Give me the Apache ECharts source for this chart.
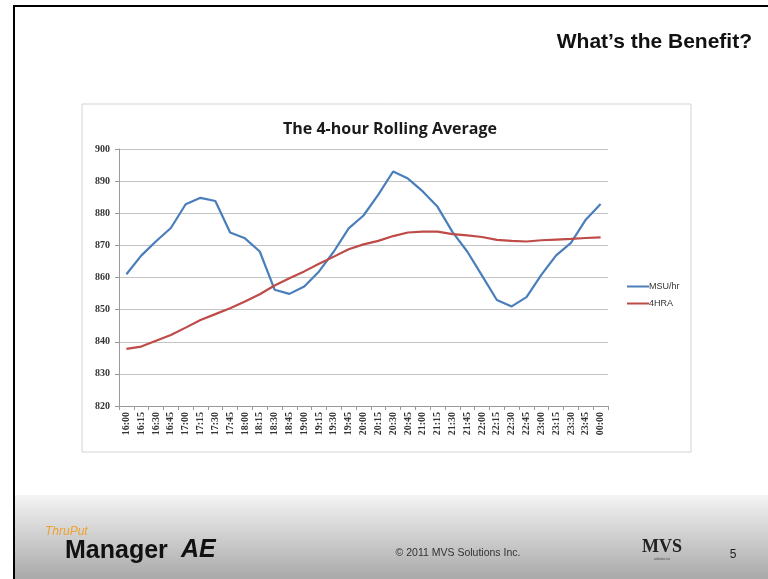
<!DOCTYPE html>
<html>
<head>
<meta charset="utf-8">
<script src="https://cdn.jsdelivr.net/npm/echarts@6/dist/echarts.min.js"></script>
<style>
html,body{margin:0;padding:0;background:#fff;}
#c{width:768px;height:579px;}
</style>
</head>
<body>
<div id="c"></div>
<script>
const categories = ['16:00','16:15','16:30','16:45','17:00','17:15','17:30','17:45','18:00','18:15','18:30','18:45','19:00','19:15','19:30','19:45','20:00','20:15','20:30','20:45','21:00','21:15','21:30','21:45','22:00','22:15','22:30','22:45','23:00','23:15','23:30','23:45','00:00'];
const msuHr = [861, 866.8, 871.3, 875.4, 882.8, 884.8, 883.8, 874, 872.2, 868.1, 856.2, 854.9, 857.2, 861.9, 868.1, 875.3, 879.3, 885.8, 893.0, 890.8, 886.8, 882.0, 874.2, 868.1, 860.6, 853.0, 851.0, 853.9, 860.8, 866.9, 870.8, 878.0, 882.9];
const hra4 = [837.8, 838.5, 840.3, 842.1, 844.4, 846.8, 848.6, 850.4, 852.5, 854.8, 857.5, 859.8, 861.9, 864.3, 866.5, 868.8, 870.3, 871.4, 872.9, 874.0, 874.3, 874.3, 873.5, 873.1, 872.6, 871.7, 871.4, 871.2, 871.6, 871.8, 872.0, 872.3, 872.5];
const seriesNames = ['MSU/hr', '4HRA'];
const yTicks = {min: 820, max: 900, interval: 10};

const chart = echarts.init(document.getElementById('c'), null, {renderer: 'canvas'});
chart.setOption({
  animation: false,
  backgroundColor: '#ffffff',
  title: {
    text: 'The 4-hour Rolling Average',
    left: 385, top: 116, textAlign: 'center',
    textStyle: {fontFamily: 'Open Sans, Liberation Sans, sans-serif', fontSize: 16, fontWeight: 'bold', color: '#1a1a1a'}
  },
  legend: {
    orient: 'vertical',
    left: 622, top: 277,
    itemWidth: 22, itemHeight: 2, itemGap: 8,
    icon: 'rect',
    textStyle: {fontFamily: 'Liberation Sans, Arial, sans-serif', fontSize: 9, color: '#333', padding: [0,0,0,-5]},
    data: seriesNames
  },
  grid: {left: 119, right: 160, top: 149, bottom: 173, containLabel: false},
  xAxis: {
    type: 'category',
    data: categories,
    boundaryGap: true,
    axisLine: {lineStyle: {color: '#9a9a9a', width: 1}},
    axisTick: {show: true, alignWithLabel: false, length: 4, lineStyle: {color: '#9a9a9a'}},
    axisLabel: {rotate: 90, interval: 0, fontFamily: 'Liberation Serif, DejaVu Serif, serif', fontSize: 10, fontWeight: 'bold', color: '#333', margin: 6}
  },
  yAxis: {
    type: 'value',
    min: yTicks.min, max: yTicks.max, interval: yTicks.interval,
    axisLine: {show: true, lineStyle: {color: '#9a9a9a', width: 1}},
    axisTick: {show: true, length: 4, lineStyle: {color: '#9a9a9a'}},
    splitLine: {lineStyle: {color: '#c4c4c4', width: 1}},
    axisLabel: {fontFamily: 'Liberation Serif, DejaVu Serif, serif', fontSize: 10, fontWeight: 'bold', color: '#333', margin: 9}
  },
  series: [
    {name: seriesNames[0], type: 'line', data: msuHr, symbol: 'none', smooth: false, lineStyle: {color: '#4a7ebb', width: 2.2}, itemStyle: {color: '#4a7ebb'}},
    {name: seriesNames[1], type: 'line', data: hra4, symbol: 'none', smooth: false, lineStyle: {color: '#be4b48', width: 2.2}, itemStyle: {color: '#be4b48'}}
  ],
  graphic: [
    {type: 'rect', z: -10, shape: {x: 15, y: 495, width: 753, height: 84},
      style: {fill: new echarts.graphic.LinearGradient(0, 0, 0, 1, [{offset: 0, color: '#f4f4f4'}, {offset: 1, color: '#a9a9a9'}])}},
    {type: 'rect', z: -5, shape: {x: 82, y: 104, width: 609, height: 348},
      style: {fill: 'none', stroke: '#d4d4d4', lineWidth: 1}},
    {type: 'rect', z: 50, shape: {x: 13, y: 5, width: 2, height: 574}, style: {fill: '#000'}},
    {type: 'rect', z: 50, shape: {x: 13, y: 5, width: 755, height: 2}, style: {fill: '#000'}},
    {type: 'text', z: 50, style: {x: 752, y: 42, text: 'What\u2019s the Benefit?', align: 'right', verticalAlign: 'middle',
      font: 'bold 21px Liberation Sans, Arial, sans-serif', fill: '#111'}},
    {type: 'text', z: 50, style: {x: 45, y: 532, text: 'ThruPut', align: 'left', verticalAlign: 'middle',
      font: 'italic 12px Liberation Sans, Arial, sans-serif', fill: '#f0a030'}},
    {type: 'text', z: 50, style: {x: 65, y: 551, text: 'Manager', align: 'left', verticalAlign: 'middle',
      font: 'bold 25px Liberation Sans, Arial, sans-serif', fill: '#111'}},
    {type: 'text', z: 50, style: {x: 181, y: 550, text: 'AE', align: 'left', verticalAlign: 'middle',
      font: 'italic bold 25px Liberation Sans, Arial, sans-serif', fill: '#111'}},
    {type: 'text', z: 50, style: {x: 458, y: 553, text: '\u00a9 2011 MVS Solutions Inc.', align: 'center', verticalAlign: 'middle',
      font: '10.5px Liberation Sans, Arial, sans-serif', fill: '#333'}},
    {type: 'text', z: 50, style: {x: 662, y: 547, text: 'MVS', align: 'center', verticalAlign: 'middle',
      font: 'bold 18px Liberation Serif, DejaVu Serif, serif', fill: '#222'}},
    {type: 'text', z: 50, style: {x: 662, y: 559, text: 'solutions inc', align: 'center', verticalAlign: 'middle',
      font: '3px Liberation Sans, Arial, sans-serif', fill: '#444'}},
    {type: 'text', z: 50, style: {x: 733, y: 555, text: '5', align: 'center', verticalAlign: 'middle',
      font: '12px Liberation Sans, Arial, sans-serif', fill: '#222'}}
  ]
});
</script>
</body>
</html>
